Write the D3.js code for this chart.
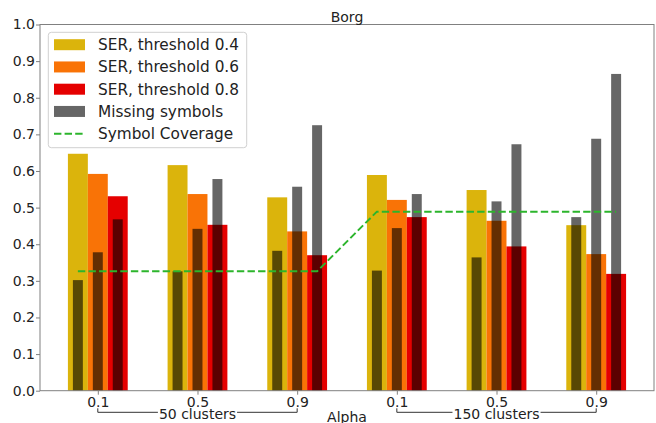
<!DOCTYPE html>
<html>
<head>
<meta charset="utf-8">
<script src="https://cdn.jsdelivr.net/npm/d3@7"></script>
<style>
  body { margin: 0; background: #fff; }
  svg { display: block; font-family: "DejaVu Sans", sans-serif; }
  .axis text { font-size: 14px; fill: #222; font-family: "DejaVu Sans", sans-serif; }
  .axis line { stroke: #808080; }
</style>
</head>
<body>
<div id="chart"></div>
<script>
// values
const alphas = ["0.1", "0.5", "0.9", "0.1", "0.5", "0.9"];
const clusterLabels = ["50 clusters", "150 clusters"];
const ser04 = [0.647, 0.616, 0.528, 0.589, 0.548, 0.452];
const ser06 = [0.592, 0.537, 0.435, 0.521, 0.464, 0.373];
const ser08 = [0.531, 0.453, 0.370, 0.474, 0.394, 0.319];
const missing04 = [0.302, 0.326, 0.382, 0.328, 0.364, 0.474];
const missing06 = [0.378, 0.442, 0.557, 0.444, 0.517, 0.688];
const missing08 = [0.468, 0.578, 0.725, 0.537, 0.673, 0.865];
const coverage = [0.326, 0.326, 0.326, 0.489, 0.489, 0.489];
const yTicks = [0, 0.1, 0.2, 0.3, 0.4, 0.5, 0.6, 0.7, 0.8, 0.9, 1.0];

const width = 656, height = 423;
const margin = {top: 24.5, right: 2, bottom: 32.3, left: 40};

const svg = d3.select("#chart").append("svg")
  .attr("width", width)
  .attr("height", height);

const x = d3.scaleLinear()
  .domain([-0.58, 5.58])
  .range([margin.left, width - margin.right]);
const y = d3.scaleLinear()
  .domain([0, 1])
  .range([height - margin.bottom, margin.top]);

//----------------------------------------
// SER bars, three per alpha
//----------------------------------------
const serSeries = [
  {values: ser04, offset: -0.2, color: "#dbb40c", label: "SER, threshold 0.4"},
  {values: ser06, offset: 0,    color: "#f97306", label: "SER, threshold 0.6"},
  {values: ser08, offset: 0.2,  color: "#e50000", label: "SER, threshold 0.8"},
];
const missSeries = [
  {values: missing04, offset: -0.2},
  {values: missing06, offset: 0},
  {values: missing08, offset: 0.2},
];

serSeries.forEach(s => {
  svg.append("g").selectAll("rect")
    .data(s.values)
    .enter()
    .append("rect")
    .attr("x", (d, i) => x(i + s.offset - 0.1))
    .attr("width", x(0.2) - x(0))
    .attr("y", d => y(d))
    .attr("height", d => y(0) - y(d))
    .attr("fill", s.color);
});

// missing symbols: narrow, translucent black over each SER bar
missSeries.forEach(s => {
  svg.append("g").selectAll("rect")
    .data(s.values)
    .enter()
    .append("rect")
    .attr("x", (d, i) => x(i + s.offset - 0.05))
    .attr("width", x(0.1) - x(0))
    .attr("y", d => y(d))
    .attr("height", d => y(0) - y(d))
    .attr("fill", "#000")
    .attr("fill-opacity", 0.6);
});

//----------------------------------------
// Symbol coverage line (from first to last bar of each group)
//----------------------------------------
const covPoints = [];
coverage.forEach((c, i) => {
  covPoints.push([i - 0.2, c]);
  covPoints.push([i + 0.2, c]);
});
svg.append("path")
  .datum(covPoints)
  .attr("fill", "none")
  .attr("stroke", "#2cb52c")
  .attr("stroke-width", 2)
  .attr("stroke-dasharray", "7.4,3.2")
  .attr("d", d3.line().x(d => x(d[0])).y(d => y(d[1])));

//----------------------------------------
// Axes and frame
//----------------------------------------
const yAxis = svg.append("g")
  .attr("class", "axis")
  .attr("transform", `translate(${margin.left},0)`)
  .call(d3.axisLeft(y).tickValues(yTicks).tickFormat(d3.format(".1f"))
    .tickSize(4).tickPadding(1).tickSizeOuter(0));
yAxis.select(".domain").remove();

const xAxis = svg.append("g")
  .attr("class", "axis")
  .attr("transform", `translate(0,${y(0)})`)
  .call(d3.axisBottom(x).tickValues(d3.range(alphas.length))
    .tickFormat(i => alphas[i]).tickSize(4).tickPadding(2.3).tickSizeOuter(0));
xAxis.select(".domain").remove();

svg.append("rect")
  .attr("x", margin.left)
  .attr("y", margin.top)
  .attr("width", width - margin.right - margin.left)
  .attr("height", y(0) - margin.top)
  .attr("fill", "none")
  .attr("stroke", "#808080")
  .attr("stroke-width", 1);

// title and axis label
svg.append("text")
  .attr("x", (x.range()[0] + x.range()[1]) / 2)
  .attr("y", 21.5)
  .attr("text-anchor", "middle")
  .attr("font-size", "14px")
  .attr("fill", "#222")
  .text("Borg");

svg.append("text")
  .attr("x", (x.range()[0] + x.range()[1]) / 2)
  .attr("y", 422)
  .attr("text-anchor", "middle")
  .attr("font-size", "14px")
  .attr("fill", "#222")
  .text("Alpha");

//----------------------------------------
// Cluster brackets under the ticks
//----------------------------------------
const bracketY = 412.3;
clusterLabels.forEach((label, k) => {
  const x0 = x(k * 3), x1 = x(k * 3 + 2), xm = x(k * 3 + 1);
  const g = svg.append("g");
  g.append("path")
    .attr("d", `M${x0},${bracketY - 4}V${bracketY}H${x1}V${bracketY - 4}`)
    .attr("fill", "none")
    .attr("stroke", "#333")
    .attr("stroke-width", 1);
  const t = g.append("text")
    .attr("x", xm)
    .attr("y", 419.3)
    .attr("text-anchor", "middle")
    .attr("font-size", "14px")
    .attr("fill", "#222")
    .text(label);
  const bb = t.node().getBBox();
  g.insert("rect", "text")
    .attr("x", bb.x - 1)
    .attr("y", bb.y + 2)
    .attr("width", bb.width + 2)
    .attr("height", bb.height - 2)
    .attr("fill", "#fff");
});

//----------------------------------------
// Legend
//----------------------------------------
const legendItems = serSeries.map(s => ({label: s.label, color: s.color, type: "patch"}))
  .concat([
    {label: "Missing symbols", color: "#666666", type: "patch"},
    {label: "Symbol Coverage", color: "#2cb52c", type: "line"},
  ]);

const legend = svg.append("g");
legend.append("rect")
  .attr("x", 48.3)
  .attr("y", 32.3)
  .attr("width", 198.4)
  .attr("height", 115.4)
  .attr("rx", 3)
  .attr("fill", "#fff")
  .attr("fill-opacity", 0.8)
  .attr("stroke", "#d0d0d0");

const rows = legend.selectAll(".row")
  .data(legendItems)
  .enter()
  .append("g")
  .attr("transform", (d, i) => `translate(0,${44.7 + 22.25 * i})`);

rows.filter(d => d.type === "patch")
  .append("rect")
  .attr("x", 54)
  .attr("y", -5.5)
  .attr("width", 31)
  .attr("height", 11)
  .attr("fill", d => d.color);

rows.filter(d => d.type === "line")
  .append("line")
  .attr("x1", 54)
  .attr("x2", 85)
  .attr("stroke", d => d.color)
  .attr("stroke-width", 2)
  .attr("stroke-dasharray", "7.4,3.2");

rows.append("text")
  .attr("x", 98)
  .attr("dy", "0.36em")
  .attr("font-size", "15.3px")
  .attr("fill", "#222")
  .text(d => d.label);
</script>
</body>
</html>
